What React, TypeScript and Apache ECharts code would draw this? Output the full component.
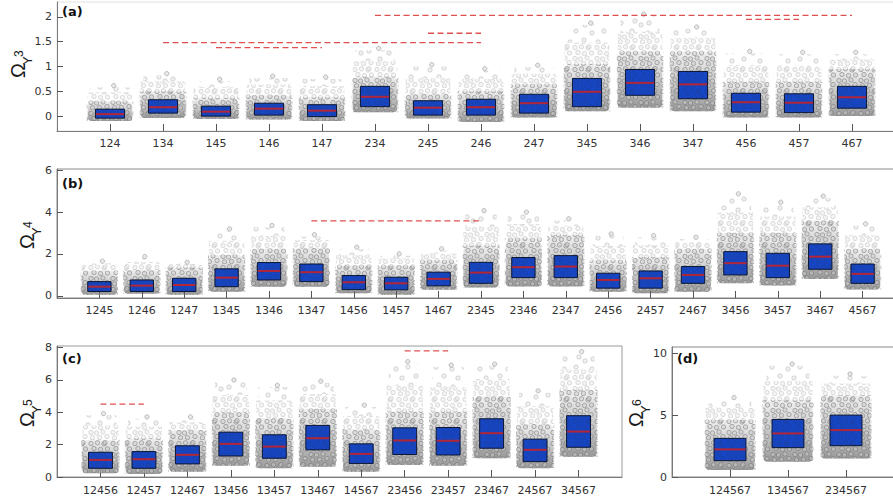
import React, { useEffect, useRef } from "react";
import * as echarts from "echarts";

// ---------- Panel (a) : Omega_Y^3 ----------
const catsA = ["124", "134", "145", "146", "147", "234", "245", "246", "247", "345", "346", "347", "456", "457", "467"];
const q1A = [-0.04, 0.06, 0.0, 0.02, -0.01, 0.19, 0.02, 0.02, 0.06, 0.19, 0.42, 0.35, 0.08, 0.07, 0.16];
const medA = [0.04, 0.18, 0.09, 0.15, 0.11, 0.39, 0.17, 0.18, 0.26, 0.49, 0.67, 0.64, 0.28, 0.27, 0.38];
const q3A = [0.14, 0.33, 0.2, 0.26, 0.23, 0.6, 0.31, 0.34, 0.44, 0.76, 0.94, 0.9, 0.46, 0.45, 0.6];
const lowA = [-0.1, -0.04, -0.06, -0.07, -0.1, 0.08, -0.05, -0.12, -0.03, 0.1, 0.17, 0.1, -0.03, -0.03, 0.0];
const denseA = [0.3, 0.5, 0.37, 0.42, 0.38, 0.8, 0.45, 0.5, 0.64, 1.05, 1.3, 1.3, 0.7, 0.7, 0.95];
const highA = [0.66, 0.9, 0.79, 0.85, 0.83, 1.41, 1.08, 1.0, 1.07, 1.92, 2.1, 1.84, 1.35, 1.33, 1.33];
const ticksA = [0, 0.5, 1, 1.5, 2];
const sigA: [string, string, number][] = [
  ["234", "467", 2.03],
  ["456", "457", 1.95],
  ["245", "246", 1.67],
  ["134", "246", 1.48],
  ["145", "147", 1.38],
];

// ---------- Panel (b) : Omega_Y^4 ----------
const catsB = ["1245", "1246", "1247", "1345", "1346", "1347", "1456", "1457", "1467", "2345", "2346", "2347", "2456", "2457", "2467", "3456", "3457", "3467", "4567"];
const q1B = [0.21, 0.21, 0.21, 0.44, 0.76, 0.68, 0.3, 0.29, 0.48, 0.6, 0.87, 0.87, 0.37, 0.37, 0.6, 1.0, 0.87, 1.27, 0.6];
const medB = [0.44, 0.49, 0.52, 0.87, 1.19, 1.13, 0.65, 0.6, 0.81, 1.11, 1.37, 1.4, 0.76, 0.84, 1.0, 1.56, 1.44, 1.87, 1.05];
const q3B = [0.68, 0.76, 0.84, 1.29, 1.59, 1.52, 0.97, 0.89, 1.13, 1.6, 1.83, 1.92, 1.08, 1.19, 1.4, 2.11, 2.03, 2.48, 1.52];
const lowB = [0.05, 0.1, 0.05, 0.2, 0.44, 0.44, 0.13, 0.05, 0.29, 0.4, 0.45, 0.45, 0.2, 0.13, 0.2, 0.6, 0.5, 0.8, 0.3];
const denseB = [1.2, 1.25, 1.35, 1.95, 2.25, 2.3, 1.45, 1.45, 1.7, 2.4, 2.75, 2.9, 1.7, 1.85, 2.25, 3.0, 3.0, 3.6, 2.25];
const highB = [1.76, 1.98, 1.71, 3.3, 3.46, 3.02, 2.43, 2.11, 2.35, 4.17, 4.1, 3.78, 3.06, 2.98, 2.9, 4.97, 4.57, 4.86, 3.54];
const ticksB = [0, 2, 4, 6];
const sigB: [string, string, number][] = [["1347", "2345", 3.58]];

// ---------- Panel (c) : Omega_Y^5 ----------
const catsC = ["12456", "12457", "12467", "13456", "13457", "13467", "14567", "23456", "23457", "23467", "24567", "34567"];
const q1C = [0.54, 0.54, 0.81, 1.3, 1.16, 1.68, 0.84, 1.39, 1.36, 1.78, 0.95, 1.84];
const medC = [1.06, 1.1, 1.37, 2.05, 1.88, 2.4, 1.43, 2.26, 2.24, 2.71, 1.68, 2.81];
const q3C = [1.53, 1.57, 1.93, 2.77, 2.61, 3.19, 2.05, 3.04, 3.06, 3.6, 2.34, 3.79];
const lowC = [0.23, 0.18, 0.32, 0.7, 0.54, 0.64, 0.32, 0.74, 0.7, 1.16, 0.54, 1.25];
const denseC = [2.3, 2.4, 2.9, 4.0, 3.65, 4.2, 2.95, 4.05, 4.05, 5.0, 3.3, 5.4];
const highC = [4.06, 3.85, 3.85, 6.13, 5.81, 6.06, 4.58, 7.27, 7.06, 7.12, 5.46, 7.89];
const ticksC = [0, 2, 4, 6, 8];
const sigC: [string, string, number][] = [
  ["12456", "12457", 4.5],
  ["23456", "23457", 7.8],
];

// ---------- Panel (d) : Omega_Y^6 ----------
const catsD = ["124567", "134567", "234567"];
const q1D = [1.32, 2.37, 2.53];
const medD = [2.23, 3.52, 3.79];
const q3D = [3.12, 4.65, 5.0];
const lowD = [0.56, 1.24, 1.5];
const denseD = [4.6, 6.2, 6.6];
const highD = [6.6, 9.3, 8.5];
const ticksD = [0, 5, 10];
const sigD: [string, string, number][] = [];

const CLOUD_W = 0.88;
const BOX_W = 0.55;
const FONT = "DejaVu Sans";

// texture tiles imitating the jittered scatter markers
function dotTile(size: number, pts: number[][], fill: string, stroke: string) {
  const circles = pts
    .map(
      ([x, y]) =>
        `<circle cx="${x}" cy="${y}" r="2.2" fill="${fill}" stroke="${stroke}" stroke-width="0.7"/>`
    )
    .join("");
  const svg = `<svg xmlns="http://www.w3.org/2000/svg" width="${size}" height="${size}">${circles}</svg>`;
  return {
    image: "data:image/svg+xml;charset=utf-8," + encodeURIComponent(svg),
    repeat: "repeat",
    imageWidth: size,
    imageHeight: size,
  };
}
const densePts = [
  [3, 3.5], [9.5, 2.8], [16, 4], [19.5, 9], [6, 8.5], [12.5, 9.5],
  [3, 14.5], [8.5, 15], [15, 14], [19, 18.5], [11.5, 19.5], [4.5, 19.8], [17, 2.6],
];
const densePattern = dotTile(22, densePts, "rgba(205,205,205,0.5)", "rgba(95,95,95,0.65)");
const boxPattern = dotTile(22, densePts, "rgba(60,60,90,0.25)", "rgba(20,20,40,0.5)");
const sparsePattern = dotTile(
  28,
  [[4, 5], [16, 3], [24, 12], [10, 14], [19, 21], [5, 23], [25, 25]],
  "rgba(210,210,210,0.55)",
  "rgba(100,100,100,0.65)"
);

function renderCloud(_params: any, api: any) {
  const x = api.value(0);
  const loV = api.value(1);
  const deV = api.value(2);
  const hiV = api.value(3);
  const lo = api.coord([x, loV]);
  const de = api.coord([x, deV]);
  const mid = api.coord([x, deV + (hiV - deV) * 0.5]);
  const hi = api.coord([x, hiV]);
  const w = api.size([CLOUD_W, 0])[0];
  const left = lo[0] - w / 2;
  return {
    type: "group",
    children: [
      {
        type: "rect",
        shape: { x: left + 1, y: de[1], width: w - 2, height: Math.max(1, lo[1] - de[1]), r: [6, 6, 4, 4] },
        style: {
          fill: new echarts.graphic.LinearGradient(0, 0, 0, 1, [
            { offset: 0, color: "rgba(150,150,150,0.15)" },
            { offset: 0.5, color: "rgba(110,110,110,0.38)" },
            { offset: 1, color: "rgba(80,80,80,0.58)" },
          ]),
        },
      },
      {
        type: "rect",
        shape: { x: left, y: de[1], width: w, height: Math.max(1, lo[1] - de[1]) },
        style: { fill: densePattern, opacity: 0.95 },
      },
      {
        type: "rect",
        shape: { x: left + 1, y: mid[1], width: w - 2, height: Math.max(1, de[1] - mid[1]) },
        style: { fill: densePattern, opacity: 0.45 },
      },
      {
        type: "rect",
        shape: { x: left + w * 0.08, y: hi[1] + 4, width: w * 0.84, height: Math.max(1, mid[1] - hi[1] - 4) },
        style: { fill: sparsePattern, opacity: 0.55 },
      },
      {
        type: "circle",
        shape: { cx: lo[0] + w * 0.08, cy: hi[1] + 2.2, r: 2.2 },
        style: { fill: "rgba(215,215,215,0.6)", stroke: "rgba(120,120,120,0.6)", lineWidth: 0.7 },
      },
    ],
  };
}

function renderBox(_params: any, api: any) {
  const x = api.value(0);
  const p1 = api.coord([x, api.value(1)]);
  const pm = api.coord([x, api.value(2)]);
  const p3 = api.coord([x, api.value(3)]);
  const w = api.size([BOX_W, 0])[0];
  const shape = { x: p1[0] - w / 2, y: p3[1], width: w, height: p1[1] - p3[1] };
  return {
    type: "group",
    children: [
      { type: "rect", shape, style: { fill: "#1646c4", stroke: "#0b1533", lineWidth: 1 } },
      { type: "rect", shape, style: { fill: boxPattern, opacity: 0.3 } },
      {
        type: "line",
        shape: { x1: p1[0] - w / 2 + 0.5, y1: pm[1], x2: p1[0] + w / 2 - 0.5, y2: pm[1] },
        style: { stroke: "#b22637", lineWidth: 2 },
      },
    ],
  };
}

type Panel = {
  cats: string[];
  q1: number[];
  med: number[];
  q3: number[];
  low: number[];
  dense: number[];
  high: number[];
  ticks: number[];
  sig: [string, string, number][];
  ymin: number;
  ymax: number;
  grid: { left: number; top: number; width: number; height: number };
  border: string;
  labelMargin: number;
};

const panels: Panel[] = [
  { cats: catsA, q1: q1A, med: medA, q3: q3A, low: lowA, dense: denseA, high: highA, ticks: ticksA, sig: sigA, ymin: -0.3, ymax: 2.3, grid: { left: 57, top: 2, width: 848, height: 129 }, border: "#e2e2e2", labelMargin: 7 },
  { cats: catsB, q1: q1B, med: medB, q3: q3B, low: lowB, dense: denseB, high: highB, ticks: ticksB, sig: sigB, ymin: -0.1, ymax: 6.05, grid: { left: 57, top: 169, width: 848, height: 129 }, border: "#8a8a8a", labelMargin: 7 },
  { cats: catsC, q1: q1C, med: medC, q3: q3C, low: lowC, dense: denseC, high: highC, ticks: ticksC, sig: sigC, ymin: 0, ymax: 8.1, grid: { left: 57, top: 346, width: 565, height: 131 }, border: "#9a9a9a", labelMargin: 8 },
  { cats: catsD, q1: q1D, med: medD, q3: q3D, low: lowD, dense: denseD, high: highD, ticks: ticksD, sig: sigD, ymin: 0, ymax: 10.5, grid: { left: 672, top: 347, width: 232, height: 130 }, border: "#8a8a8a", labelMargin: 8 },
];

const panelTags = ["(a)", "(b)", "(c)", "(d)"];
const tagPos = [
  [62, 5],
  [62, 177],
  [62, 352],
  [677, 352],
];
const yNameSup = ["3", "4", "5", "6"];
const yNamePos = [
  [28, 78],
  [37, 249],
  [37, 427],
  [646, 427],
];

function yName(gx: number, gy: number, sup: string) {
  const base = { fontFamily: "Liberation Sans", fill: "#1a1a1a", verticalAlign: "bottom", align: "left" };
  return {
    type: "group",
    x: gx,
    y: gy,
    rotation: Math.PI / 2,
    children: [
      { type: "text", x: 0, y: 0, style: { ...base, text: "Ω", fontSize: 20 } },
      { type: "text", x: 13, y: 6, style: { ...base, text: "Y", fontSize: 13 } },
      { type: "text", x: 21, y: -3, style: { ...base, text: sup, fontSize: 12 } },
    ],
  };
}

function buildOption() {
  const grid: any[] = [];
  const xAxis: any[] = [];
  const yAxis: any[] = [];
  const series: any[] = [];
  panels.forEach((p, i) => {
    const n = p.cats.length;
    const idx = p.cats.map((_, k) => k + 1);
    grid.push({ ...p.grid, show: true, borderColor: p.border, borderWidth: 1, backgroundColor: "transparent", containLabel: false, outerBoundsMode: "none" });
    xAxis.push({
      gridIndex: i,
      type: "value",
      min: 0,
      max: n + 1,
      axisLine: { show: true, onZero: false, lineStyle: { color: "#7a7a7a", width: 1 } },
      axisTick: { show: true, inside: true, length: 7, customValues: idx, lineStyle: { color: "#555" } },
      axisLabel: {
        show: true,
        customValues: idx,
        formatter: (v: number) => p.cats[Math.round(v) - 1] ?? "",
        fontSize: 11,
        fontFamily: FONT,
        color: "#333",
        margin: p.labelMargin,
      },
      splitLine: { show: false },
    });
    yAxis.push({
      gridIndex: i,
      type: "value",
      min: p.ymin,
      max: p.ymax,
      axisLine: { show: true, onZero: false, lineStyle: { color: "#7a7a7a", width: 1 } },
      axisTick: { show: true, inside: true, length: 6, customValues: p.ticks, lineStyle: { color: "#555" } },
      axisLabel: { show: true, customValues: p.ticks, fontSize: 11, fontFamily: FONT, color: "#333", margin: 5 },
      splitLine: { show: false },
    });
    series.push({
      type: "custom",
      xAxisIndex: i,
      yAxisIndex: i,
      renderItem: renderCloud,
      encode: { x: 0, y: [1, 2, 3] },
      data: p.low.map((v, k) => [k + 1, v, p.dense[k], p.high[k]]),
      z: 2,
      silent: true,
    });
    series.push({
      type: "custom",
      xAxisIndex: i,
      yAxisIndex: i,
      renderItem: renderBox,
      encode: { x: 0, y: [1, 2, 3] },
      data: p.q1.map((v, k) => [k + 1, v, p.med[k], p.q3[k]]),
      z: 3,
      silent: true,
    });
    p.sig.forEach(([a, b, y]) => {
      series.push({
        type: "line",
        xAxisIndex: i,
        yAxisIndex: i,
        data: [
          [p.cats.indexOf(a) + 1, y],
          [p.cats.indexOf(b) + 1, y],
        ],
        symbol: "none",
        lineStyle: { color: "#e05050", width: 1.3, type: [6, 3.5] },
        z: 4,
        silent: true,
      });
    });
  });

  const graphic: any[] = [];
  panelTags.forEach((t, i) => {
    graphic.push({
      type: "text",
      x: tagPos[i][0],
      y: tagPos[i][1],
      style: { text: t, fontSize: 13, fontWeight: "bold", fontFamily: FONT, fill: "#111" },
      z: 10,
    });
    graphic.push(yName(yNamePos[i][0], yNamePos[i][1], yNameSup[i]));
  });

  return { animation: false, backgroundColor: "#ffffff", grid, xAxis, yAxis, series, graphic };
}

export default function App() {
  const ref = useRef<HTMLDivElement>(null);
  useEffect(() => {
    if (!ref.current) return;
    const chart = echarts.init(ref.current, undefined, { renderer: "svg" });
    chart.setOption(buildOption() as any);
    return () => chart.dispose();
  }, []);
  return <div ref={ref} style={{ position: "fixed", left: 0, top: 0, width: 893, height: 501, background: "#fff" }} />;
}
